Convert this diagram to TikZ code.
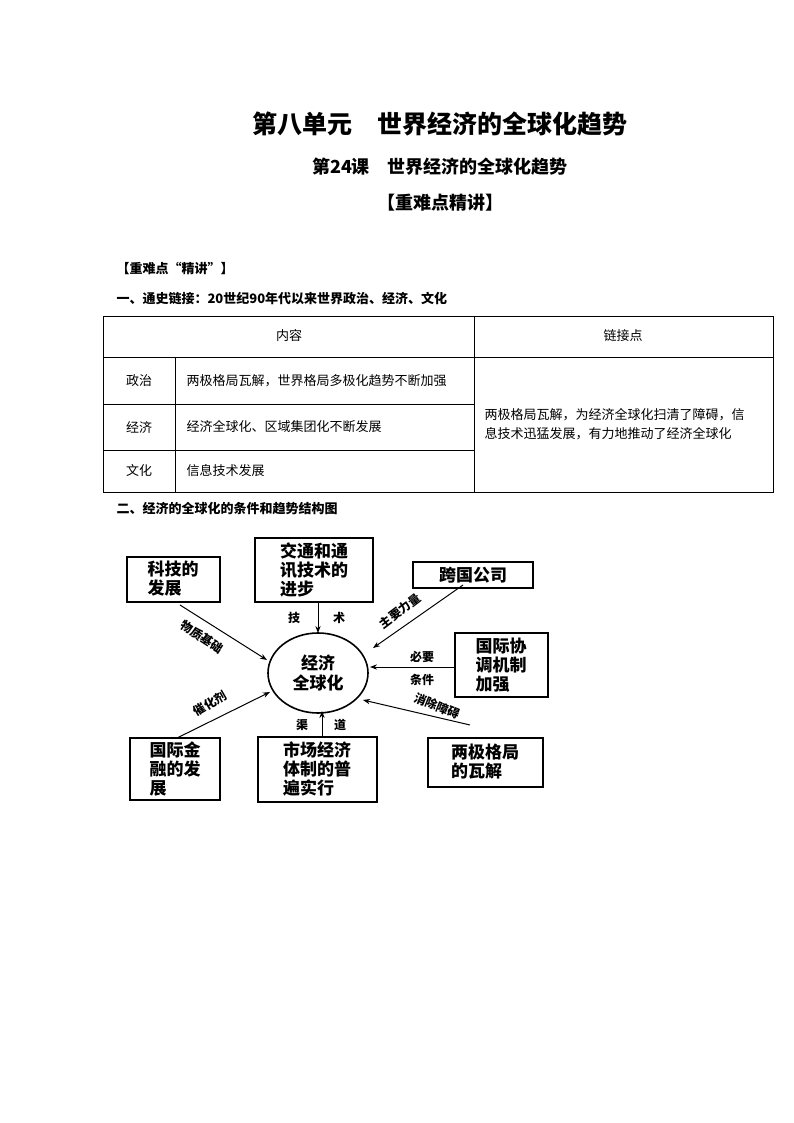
\documentclass[tikz,border=0pt]{standalone}
\usepackage{fontspec}
\setmainfont{Noto Sans CJK SC}
\usetikzlibrary{arrows.meta}
\begin{document}
\begin{tikzpicture}[x=1pt,y=-1pt,
  box/.style={draw,line width=1.6pt,align=left,font=\fontsize{17}{19}\selectfont\bfseries,inner sep=0pt},
  lab/.style={font=\fontsize{12}{14}\selectfont\bfseries,inner sep=1pt},
  arr/.style={-{Stealth[length=7pt]},line width=1pt},
  body/.style={font=\fontsize{13}{15}\selectfont},
  hd/.style={font=\fontsize{13}{15}\selectfont\bfseries,anchor=west}]
\useasboundingbox (0,0) rectangle (794,1123);
\node[font=\fontsize{25}{27}\selectfont\bfseries] (t1) at (440,124) {第八单元\quad 世界经济的全球化趋势};
\node[font=\fontsize{18}{20}\selectfont\bfseries] (t2) at (440,167) {第24课\quad 世界经济的全球化趋势};
\node[font=\fontsize{18}{20}\selectfont\bfseries] (t3) at (440,203) {【重难点精讲】};
\node[hd] (h1) at (113,268) {【重难点“精讲”】};
\node[hd] (h2) at (113,299) {一、通史链接：20世纪90年代以来世界政治、经济、文化};
% table
\draw[line width=0.8pt] (103,316) rectangle (773,492);
\draw[line width=0.8pt] (103,357) -- (773,357) (474,316) -- (474,492)
  (103,404) -- (474,404) (103,450) -- (474,450) (175,357) -- (175,492);
\node[body] (c1) at (289,336) {内容};
\node[body] (c2) at (623,336) {链接点};
\node[body] (r1) at (139,381) {政治};
\node[body] (r2) at (139,427) {经济};
\node[body] (r3) at (139,471) {文化};
\node[body,anchor=west] (d1) at (183,381) {两极格局瓦解，世界格局多极化趋势不断加强};
\node[body,anchor=west] (d2) at (183,427) {经济全球化、区域集团化不断发展};
\node[body,anchor=west] (d3) at (183,471) {信息技术发展};
\node[body,anchor=west,align=left,text width=290pt] (d4) at (481,424) {两极格局瓦解，为经济全球化扫清了障碍，信\\[4pt]息技术迅猛发展，有力地推动了经济全球化};
\node[hd] (h3) at (113,509) {二、经济的全球化的条件和趋势结构图};
% diagram
\draw[line width=1.6pt] (318,673) ellipse (50 and 40);
\node[font=\fontsize{17}{20}\selectfont\bfseries,align=center] (ct) at (318,673) {经济\\全球化};
\draw[box] (127,557) rectangle (220,602); \node[box,draw=none] (b1) at (173,579) {科技的\\发展};
\draw[box] (255,538) rectangle (373,602); \node[box,draw=none] (b2) at (314,570) {交通和通\\讯技术的\\进步};
\draw[box] (413,562) rectangle (533,588); \node[box,draw=none] (b3) at (473,575) {跨国公司};
\draw[box] (455,633) rectangle (548,697); \node[box,draw=none] (b4) at (501,665) {国际协\\调机制\\加强};
\draw[box] (428,738) rectangle (543,787); \node[box,draw=none] (b5) at (485,762) {两极格局\\的瓦解};
\draw[box] (258,737) rectangle (377,802); \node[box,draw=none] (b6) at (317,769) {市场经济\\体制的普\\遍实行};
\draw[box] (130,738) rectangle (220,800); \node[box,draw=none] (b7) at (175,769) {国际金\\融的发\\展};
\coordinate (s1) at (180,605); \coordinate (e1) at (267,660);
\coordinate (s2) at (318,602); \coordinate (e2) at (318,633);
\coordinate (s3) at (463,585); \coordinate (e3) at (373,648);
\coordinate (s4) at (455,667); \coordinate (e4) at (370,667);
\coordinate (s5) at (470,725); \coordinate (e5) at (363,700);
\coordinate (s6) at (322,737); \coordinate (e6) at (322,711);
\coordinate (s7) at (177,738); \coordinate (e7) at (270,692);
\foreach \i in {1,...,7} {\draw[arr] (s\i) -- (e\i);}
\node[lab,rotate=-33] (l1) at (202,637) {物质基础};
\node[lab] (l2a) at (294,618) {技}; \node[lab] (l2b) at (339,618) {术};
\node[lab,rotate=37] (l3) at (400,611) {主要力量};
\node[lab] (l4a) at (422,657) {必要}; \node[lab] (l4b) at (422,680) {条件};
\node[lab,rotate=-22] (l5) at (437,706) {消除障碍};
\node[lab] (l6a) at (302,725) {渠}; \node[lab] (l6b) at (340,725) {道};
\node[lab,rotate=30] (l7) at (210,704) {催化剂};
\end{tikzpicture}
\end{document}
